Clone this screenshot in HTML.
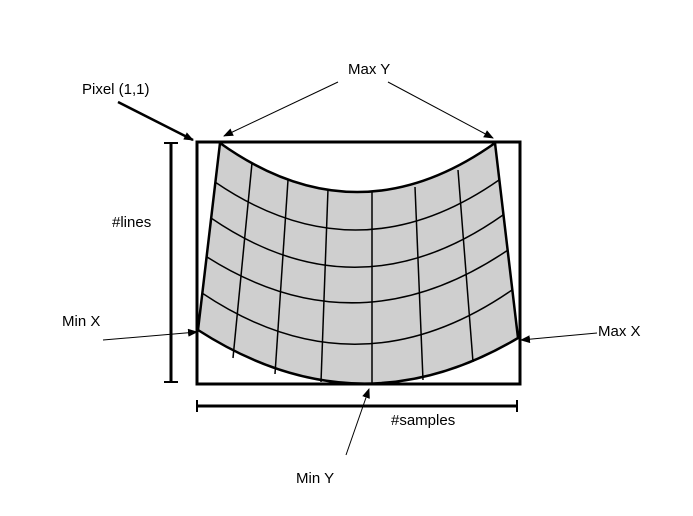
<!DOCTYPE html>
<html><head><style>
html,body{margin:0;padding:0;background:#fff;}
svg{display:block;}
text{font-family:"Liberation Sans",Arial,sans-serif;font-size:15px;fill:#000;}
</style></head><body>
<svg width="693" height="516" viewBox="0 0 693 516" xmlns="http://www.w3.org/2000/svg">
<defs>
<marker id="ah" markerWidth="10" markerHeight="8" refX="9" refY="4" orient="auto" markerUnits="userSpaceOnUse">
<path d="M0,0 L10,4 L0,8 z" fill="#000"/>
</marker>
</defs>
<!-- warped shape -->
<path d="M220,143 Q357,241 495,143 L518,338 Q358,433 198,330 Z" fill="#cfcfcf" stroke="#000" stroke-width="2.5"/>
<!-- horizontal grid -->
<g fill="none" stroke="#000" stroke-width="1.5">
<path d="M215,182 Q357,279 499,180"/>
<path d="M211,218 Q357,318 503,215"/>
<path d="M207,257 Q357,352 508,250"/>
<path d="M202,293 Q357,397 512,290"/>
<!-- vertical grid -->
<path d="M252,163 L233,358"/>
<path d="M288,180 L275,374"/>
<path d="M328,189 L321,382"/>
<path d="M372,192 L372,384"/>
<path d="M415,187 L423,380"/>
<path d="M458,170 L473,362"/>
</g>
<!-- rectangle -->
<rect x="197" y="142" width="323" height="242" fill="none" stroke="#000" stroke-width="3"/>
<!-- #lines bar -->
<g stroke="#000" stroke-width="3">
<line x1="171" y1="143" x2="171" y2="382"/>
<line x1="164" y1="143" x2="178" y2="143" stroke-width="2"/>
<line x1="164" y1="382" x2="178" y2="382" stroke-width="2"/>
<!-- #samples bar -->
<line x1="197" y1="406" x2="517" y2="406"/>
<line x1="197" y1="400" x2="197" y2="412" stroke-width="2"/>
<line x1="517" y1="400" x2="517" y2="412" stroke-width="2"/>
</g>
<!-- arrows -->
<g stroke="#000" fill="none">
<line x1="118" y1="102" x2="193" y2="140" stroke-width="2.5" marker-end="url(#ah)"/>
<line x1="338" y1="82" x2="224" y2="136" stroke-width="1" marker-end="url(#ah)"/>
<line x1="388" y1="82" x2="493" y2="138" stroke-width="1" marker-end="url(#ah)"/>
<line x1="103" y1="340" x2="197" y2="332" stroke-width="1" marker-end="url(#ah)"/>
<line x1="597" y1="333" x2="521" y2="340" stroke-width="1" marker-end="url(#ah)"/>
<line x1="346" y1="455" x2="369" y2="389" stroke-width="1" marker-end="url(#ah)"/>
</g>
<!-- labels -->
<text x="82" y="94">Pixel (1,1)</text>
<text x="348" y="74">Max Y</text>
<text x="112" y="227">#lines</text>
<text x="62" y="326">Min X</text>
<text x="598" y="336">Max X</text>
<text x="391" y="425">#samples</text>
<text x="296" y="483">Min Y</text>
</svg>
</body></html>
